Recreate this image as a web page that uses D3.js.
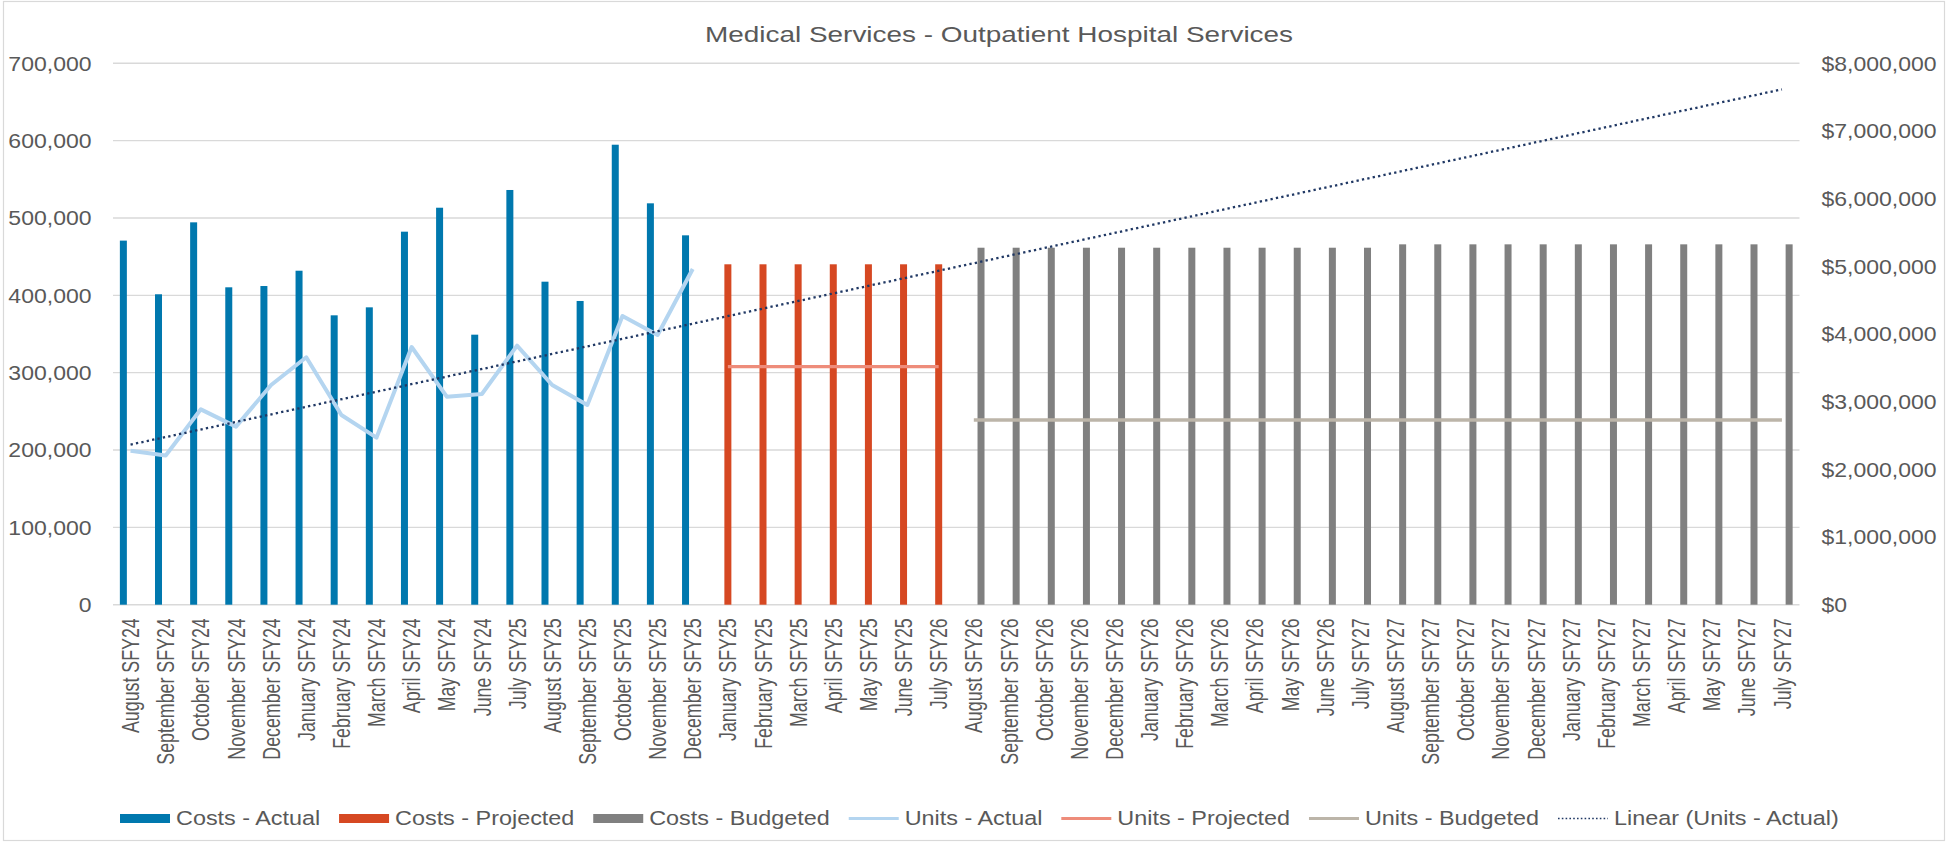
<!DOCTYPE html>
<html>
<head>
<meta charset="utf-8">
<title>Medical Services - Outpatient Hospital Services</title>
<style>
  body { margin: 0; background: #fff; }
  svg text { font-family: "Liberation Sans", Arial, sans-serif; fill: #595959; }
</style>
</head>
<body>
<svg></svg>
<script src="https://d3js.org/d3.v7.min.js"></script>
<script>
// month labels on the x axis (48 of them, "July SFY27" shows up twice in the source)
var categories = [
  "August SFY24", "September SFY24", "October SFY24", "November SFY24", "December SFY24",
  "January SFY24", "February SFY24", "March SFY24", "April SFY24", "May SFY24", "June SFY24",
  "July SFY25", "August SFY25", "September SFY25", "October SFY25", "November SFY25", "December SFY25",
  "January SFY25", "February SFY25", "March SFY25", "April SFY25", "May SFY25", "June SFY25",
  "July SFY26", "August SFY26", "September SFY26", "October SFY26", "November SFY26", "December SFY26",
  "January SFY26", "February SFY26", "March SFY26", "April SFY26", "May SFY26", "June SFY26",
  "July SFY27", "August SFY27", "September SFY27", "October SFY27", "November SFY27", "December SFY27",
  "January SFY27", "February SFY27", "March SFY27", "April SFY27", "May SFY27", "June SFY27",
  "July SFY27"
];

// costs (right axis, $)
var costsActual = [5380000, 4587000, 5650000, 4690000, 4709000, 4935000, 4276000, 4394000, 5512000,
  5866000, 3990000, 6128000, 4773000, 4488000, 6797000, 5931000, 5458000];
var costsProjected = [5030000, 5030000, 5030000, 5030000, 5030000, 5030000, 5030000];
var costsBudgeted = [5275000, 5275000, 5275000, 5275000, 5275000, 5275000, 5275000, 5275000, 5275000,
  5275000, 5275000, 5275000, 5325000, 5325000, 5325000, 5325000, 5325000, 5325000, 5325000, 5325000,
  5325000, 5325000, 5325000, 5325000];

// units (left axis)
var unitsActual = [199000, 193000, 252600, 230200, 284100, 319900, 245300, 216000, 333200, 269000,
  272400, 334900, 284100, 258200, 373300, 348700, 434100];
var unitsProjected = [307700, 307700, 307700, 307700, 307700, 307700, 307700];
var unitsBudgeted = [238800, 238800, 238800, 238800, 238800, 238800, 238800, 238800, 238800, 238800,
  238800, 238800, 238800, 238800, 238800, 238800, 238800, 238800, 238800, 238800, 238800, 238800,
  238800, 238800];

var unitTicks = [0, 100000, 200000, 300000, 400000, 500000, 600000, 700000];
var costTicks = [0, 1000000, 2000000, 3000000, 4000000, 5000000, 6000000, 7000000, 8000000];

var legendNames = ["Costs - Actual", "Costs - Projected", "Costs - Budgeted", "Units - Actual",
  "Units - Projected", "Units - Budgeted", "Linear (Units - Actual)"];

var width = 1948, height = 842,
    plotLeft = 113, plotRight = 1799.5, plotTop = 63.3, plotBottom = 604.7,
    stretch = 1.18;

var colors = {
  actual: "#0078ae", projected: "#d64822", budgeted: "#808080",
  uActual: "#b4d5f0", uProjected: "#ee8c7a", uBudgeted: "#bcb5a9", trend: "#203864"
};

var svg = d3.select("svg").attr("width", width).attr("height", height);

svg.append("rect").attr("x", 3.5).attr("y", 1.5).attr("width", width - 7).attr("height", height - 3)
  .attr("fill", "#fff").attr("stroke", "#d9d9d9").attr("stroke-width", 1.2);

var x = d3.scaleBand().domain(d3.range(categories.length)).range([plotLeft, plotRight]);
var yL = d3.scaleLinear().domain([0, 700000]).range([plotBottom, plotTop]);
var yR = d3.scaleLinear().domain([0, 8000000]).range([plotBottom, plotTop]);
var cx = i => x(i) + x.bandwidth() / 2;

// gridlines from the left axis
svg.append("g").selectAll("line").data(unitTicks).join("line")
  .attr("x1", plotLeft).attr("x2", plotRight)
  .attr("y1", d => yL(d)).attr("y2", d => yL(d))
  .attr("stroke", "#d9d9d9").attr("stroke-width", 1.4);

// the three cost series sit side by side inside each month
var series = [
  { key: "actual", start: 0, costs: costsActual, units: unitsActual },
  { key: "projected", start: costsActual.length, costs: costsProjected, units: unitsProjected },
  { key: "budgeted", start: costsActual.length + costsProjected.length, costs: costsBudgeted, units: unitsBudgeted }
];
var sub = x.bandwidth() / 4.88;
var xSub = d3.scaleBand().domain(series.map(s => s.key)).range([-1.5 * sub, 1.5 * sub]);

series.forEach(function (s) {
  var pts = s.costs.map((v, k) => ({ i: s.start + k, v: v }));
  svg.append("g").selectAll("rect").data(pts).join("rect")
    .attr("x", d => cx(d.i) + xSub(s.key) + (xSub.bandwidth() - 7) / 2)
    .attr("width", 7)
    .attr("y", d => yR(d.v))
    .attr("height", d => yR(0) - yR(d.v))
    .attr("fill", colors[s.key]);
});

var line = d3.line().x(d => cx(d.i)).y(d => yL(d.v));
var lineStyle = { actual: ["uActual", 4], projected: ["uProjected", 3.2], budgeted: ["uBudgeted", 3.5] };
series.forEach(function (s) {
  var pts = s.units.map((v, k) => ({ i: s.start + k, v: v }));
  svg.append("path").attr("d", line(pts))
    .attr("fill", "none")
    .attr("stroke", colors[lineStyle[s.key][0]])
    .attr("stroke-width", lineStyle[s.key][1])
    .attr("stroke-linejoin", "round");
});

// linear trend of units actual, carried to the last month
var n = unitsActual.length,
    mx = d3.mean(d3.range(n)),
    my = d3.mean(unitsActual),
    slope = d3.sum(unitsActual, (v, i) => (i - mx) * (v - my)) / d3.sum(d3.range(n), i => (i - mx) * (i - mx)),
    icpt = my - slope * mx;
var last = categories.length - 1;
svg.append("path")
  .attr("d", line([{ i: 0, v: icpt }, { i: last, v: icpt + slope * last }]))
  .attr("fill", "none").attr("stroke", colors.trend)
  .attr("stroke-width", 2.3).attr("stroke-dasharray", "2.3 3.2");

// title
svg.append("text").attr("transform", "translate(999,41.7) scale(1.27,1)")
  .attr("text-anchor", "middle").style("font-size", "22px")
  .text("Medical Services - Outpatient Hospital Services");

// left axis
var gl = svg.append("g").attr("transform", `translate(${plotLeft},0)`)
  .call(d3.axisLeft(yL).tickValues(unitTicks).tickFormat(d3.format(",")).tickSize(0));
gl.select(".domain").remove();
gl.selectAll("text").attr("x", 0).attr("dy", "0.35em")
  .attr("transform", `translate(-21.5,0) scale(${stretch},1)`)
  .attr("fill", null).style("font-size", "19.5px");

// right axis
var gr = svg.append("g").attr("transform", `translate(${plotRight},0)`)
  .call(d3.axisRight(yR).tickValues(costTicks).tickFormat(d => "$" + d3.format(",")(d)).tickSize(0));
gr.select(".domain").remove();
gr.selectAll("text").attr("x", 0).attr("dy", "0.35em")
  .attr("transform", `translate(22,0) scale(${stretch},1)`)
  .attr("fill", null).style("font-size", "19.5px");

// month labels
var gx = svg.append("g").attr("transform", `translate(0,${plotBottom})`)
  .call(d3.axisBottom(x).tickFormat(i => categories[i]).tickSize(0));
gx.select(".domain").remove();
gx.selectAll("text").attr("x", 0).attr("y", 0).attr("dy", "0.36em")
  .attr("transform", "translate(0,13.6) scale(1.34,1) rotate(-90)")
  .attr("fill", null).style("text-anchor", "end").style("font-size", "17.8px");
svg.selectAll("g").attr("font-family", null).attr("font-size", null);

// legend
var kinds = ["bar", "bar", "bar", "line", "line", "line", "dot"];
var swatchColors = [colors.actual, colors.projected, colors.budgeted, colors.uActual, colors.uProjected, colors.uBudgeted, colors.trend];
var legStretch = 1.2;
var lg = svg.append("g");
var items = lg.selectAll("g").data(legendNames).join("g");
items.append("text").style("font-size", "19.5px").text(d => d);
var widths = [];
items.select("text").each(function () { widths.push(this.getComputedTextLength() * legStretch); });
var sw = 50, gapIn = 6, gapOut = 18.7;
var total = d3.sum(widths) + legendNames.length * (sw + gapIn) + (legendNames.length - 1) * gapOut;
var pos = 979.5 - total / 2;
items.each(function (d, k) {
  var g = d3.select(this), x0 = pos, ly = 818.5;
  if (kinds[k] === "bar") {
    g.append("rect").attr("x", x0).attr("y", ly - 4.5).attr("width", sw).attr("height", 9).attr("fill", swatchColors[k]);
  } else {
    g.append("line").attr("x1", x0).attr("x2", x0 + sw).attr("y1", ly).attr("y2", ly)
      .attr("stroke", swatchColors[k])
      .attr("stroke-width", kinds[k] === "dot" ? 1.6 : 3.2)
      .attr("stroke-dasharray", kinds[k] === "dot" ? "1.6 2.2" : null);
  }
  g.select("text").attr("transform", `translate(${x0 + sw + gapIn},824.7) scale(${legStretch},1)`);
  pos += sw + gapIn + widths[k] + gapOut;
});
</script>
</body>
</html>
